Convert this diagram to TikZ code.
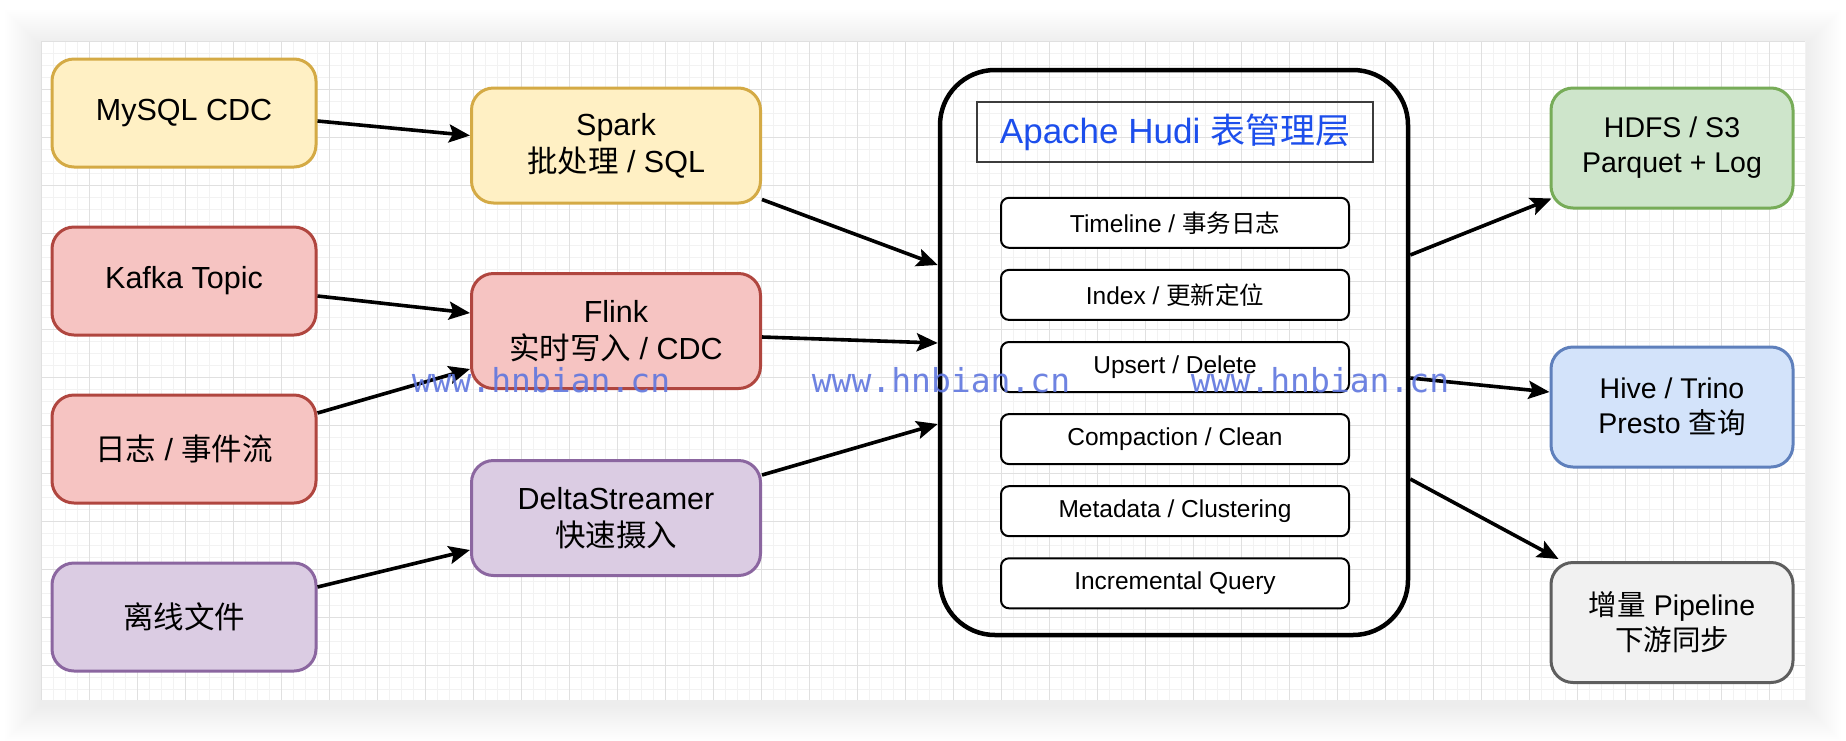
\documentclass[tikz,border=0pt]{standalone}
\usepackage{fontspec}
\setmainfont{Liberation Sans}
\newfontfamily\cjkfont{Noto Sans CJK SC}
\newfontfamily\wmfont{DejaVu Sans Mono}
\newcommand{\zh}[1]{{\cjkfont #1}}
\usetikzlibrary{arrows.meta}

\definecolor{yelfill}{HTML}{FFF0C4}
\definecolor{yeldraw}{HTML}{D4AA45}
\definecolor{redfill}{HTML}{F6C4C2}
\definecolor{reddraw}{HTML}{B0463F}
\definecolor{purfill}{HTML}{DBCCE3}
\definecolor{purdraw}{HTML}{8B66A0}
\definecolor{grnfill}{HTML}{CEE5CB}
\definecolor{grndraw}{HTML}{77AC58}
\definecolor{blufill}{HTML}{D3E3FA}
\definecolor{bludraw}{HTML}{5F80BC}
\definecolor{gryfill}{HTML}{F1F1F1}
\definecolor{grydraw}{HTML}{5E5E5E}
\definecolor{hudiblue}{RGB}{28,78,236}
\definecolor{wmblue}{RGB}{95,118,222}

\begin{document}
\begin{tikzpicture}[x=1pt,y=-1pt,
    srcbox/.style={rounded corners=22pt, line width=3pt, minimum width=264pt, minimum height=108pt,
        align=center, inner sep=0pt, font=\fontsize{30.5}{37}\selectfont},
    midbox/.style={srcbox, minimum width=289pt, minimum height=115pt},
    outbox/.style={srcbox, minimum width=242pt, minimum height=120pt, font=\fontsize{28.5}{35}\selectfont},
    layerbox/.style={draw=black, fill=white, rounded corners=8pt, line width=2pt, minimum width=348pt,
        minimum height=50pt, inner sep=0pt, font=\fontsize{24.5}{28}\selectfont},
    flow/.style={line width=3.6pt, -{Stealth[length=21pt,width=18pt,inset=4pt]}},
    minorgrid/.style={draw={rgb,255:red,242;green,242;blue,242}, line width=0.8pt},
    majorgrid/.style={draw={rgb,255:red,224;green,224;blue,224}, line width=1pt},
    watermark/.style={text=wmblue, text opacity=0.9, font=\wmfont\fontsize{33}{33}\selectfont, inner sep=0pt}
]
\useasboundingbox (0,0) rectangle (1846,740);
\fill[white] (0,0) rectangle (1846,740);

%Shadow of the canvas
\foreach \r in {2,4,...,36}
  \fill[black, opacity=0.005] ({41-\r},{41-\r+5}) rectangle ({1805+\r},{700+\r+5});
\fill[white] (41,41) rectangle (1805,700);

%Grid
\begin{scope}[shift={(41,41)}]
  \draw[minorgrid, step=12pt] (0,0) grid (1764,659);
  \draw[majorgrid, step=48pt] (0,0) grid (1764,659);
\end{scope}

%Sources
\node[srcbox, fill=yelfill, draw=yeldraw] (mysql) at (184,113) {MySQL CDC};
\node[srcbox, fill=redfill, draw=reddraw] (kafka) at (184,281) {Kafka Topic};
\node[srcbox, fill=redfill, draw=reddraw] (eventlog) at (184,449) {\zh{日志} / \zh{事件流}};
\node[srcbox, fill=purfill, draw=purdraw] (offline) at (184,617) {\zh{离线文件}};

%Ingestion engines
\node[midbox, fill=yelfill, draw=yeldraw] (spark) at (616,145.5) {Spark\\\zh{批处理} / SQL};
\node[midbox, fill=redfill, draw=reddraw] (flink) at (616,331) {Flink\\\zh{实时写入} / CDC};
\node[midbox, fill=purfill, draw=purdraw] (delta) at (616,518) {DeltaStreamer\\\zh{快速摄入}};

%Hudi table layer
\node[draw=black, line width=4.5pt, rounded corners=55pt, minimum width=468pt, minimum height=565pt] (hudi) at (1174,352.5) {};
\node[draw={rgb,255:red,60;green,60;blue,60}, line width=1.5pt, minimum width=396pt, minimum height=60pt,
    text=hudiblue, font=\fontsize{35}{40}\selectfont] (hudititle) at (1175,132) {Apache Hudi \zh{表管理层}};
\foreach \txt [count=\i] in {Timeline / \zh{事务日志}, Index / \zh{更新定位}, Upsert / Delete,
    Compaction / Clean, Metadata / Clustering, Incremental Query}
  \node[layerbox] (layer\i) at (1175,{222.8+72.1*(\i-1)}) {\txt};

%Consumers
\node[outbox, fill=grnfill, draw=grndraw] (hdfs) at (1672,148) {HDFS / S3\\Parquet + Log};
\node[outbox, fill=blufill, draw=bludraw] (hive) at (1672,407) {Hive / Trino\\Presto \zh{查询}};
\node[outbox, fill=gryfill, draw=grydraw] (incr) at (1672,622.5) {\zh{增量} Pipeline\\\zh{下游同步}};

%Connectors
\draw[flow] ([yshift=-8pt]mysql.east) -- ([yshift=10pt]spark.west);
\draw[flow] ([yshift=-15pt]kafka.east) -- ([yshift=18pt]flink.west);
\draw[flow] ([yshift=36pt]eventlog.east) -- ([yshift=-38pt]flink.west);
\draw[flow] ([yshift=30pt]offline.east) -- ([yshift=-32pt]delta.west);
\draw[flow] ([yshift=5pt]spark.south east) -- ([yshift=87.5pt]hudi.west);
\draw[flow] ([yshift=-6pt]flink.east) -- ([yshift=9.5pt]hudi.west);
\draw[flow] ([yshift=43pt]delta.east) -- ([yshift=-71.5pt]hudi.west);
\draw[flow] ([yshift=97.5pt]hudi.east) -- ([xshift=2pt,yshift=11pt]hdfs.south west);
\draw[flow] ([yshift=-25.5pt]hudi.east) -- ([yshift=15pt]hive.west);
\draw[flow] ([yshift=-126.5pt]hudi.east) -- ([xshift=9pt,yshift=2pt]incr.north west);

% Text Node
\node[watermark] (wm1) at (541,380) {www.hnbian.cn};
\node[watermark] (wm2) at (941,380) {www.hnbian.cn};
\node[watermark] (wm3) at (1320,380) {www.hnbian.cn};
\end{tikzpicture}
\end{document}
